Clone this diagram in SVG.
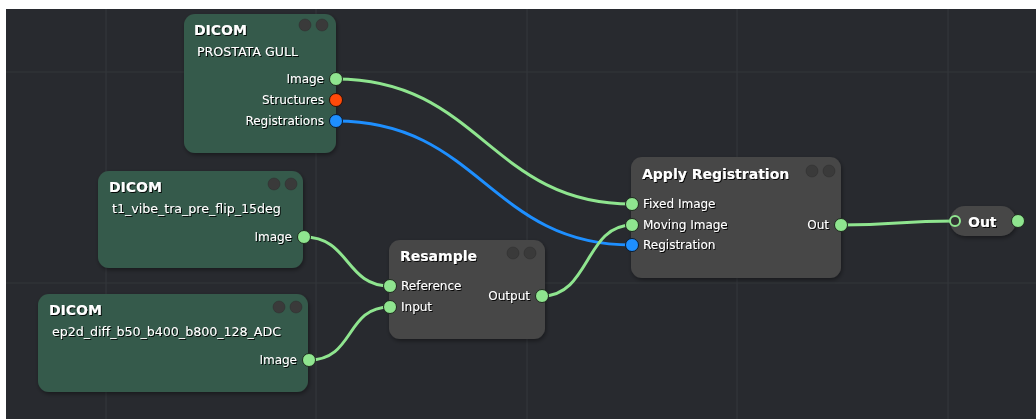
<svg xmlns="http://www.w3.org/2000/svg" width="1036" height="419" viewBox="0 0 1036 419">
<defs>
<filter id="ts" x="-10%" y="-30%" width="130%" height="160%"><feDropShadow dx="1" dy="1" stdDeviation="0.3" flood-color="#000" flood-opacity="0.9"/></filter>
<filter id="ns" x="-10%" y="-10%" width="130%" height="130%"><feDropShadow dx="1" dy="2" stdDeviation="2" flood-color="#000" flood-opacity="0.4"/></filter>
</defs>
<style>
.bg{fill:#282a2f}
.grid{stroke:#33363b;stroke-width:1.2}
.dicom{fill:#355a4b}
.proc{fill:#474747}
.t{font-family:"DejaVu Sans",Verdana,sans-serif;fill:#fff;filter:url(#ts)}
.title{font-size:14px;font-weight:bold}
.sub{font-size:12.6px}
.lbl{font-size:12px}
.dot{fill:#3a3a3a;stroke:#2e2e2e;stroke-width:0.5}
.pg{fill:#8fe58f;stroke:#1e2a1e;stroke-width:1}
.pb{fill:#1e8fff;stroke:#0b1b2e;stroke-width:1}
.po{fill:#ff4a0a;stroke:#2a1208;stroke-width:1}
.wg{fill:none;stroke:#8fe58f;stroke-width:3}
.wb{fill:none;stroke:#1e8fff;stroke-width:3}
</style>
<rect width="1036" height="419" fill="#ffffff"/>
<rect x="6" y="9" width="1030" height="410" class="bg"/>
<g id="grid">
<line x1="106" y1="9" x2="106" y2="419" class="grid"/>
<line x1="316" y1="9" x2="316" y2="419" class="grid"/>
<line x1="527" y1="9" x2="527" y2="419" class="grid"/>
<line x1="737" y1="9" x2="737" y2="419" class="grid"/>
<line x1="948" y1="9" x2="948" y2="419" class="grid"/>
<line x1="6" y1="72" x2="1036" y2="72" class="grid"/>
<line x1="6" y1="283" x2="1036" y2="283" class="grid"/>
</g>
<g id="connectors">
<path class="wg" d="M336,79 C480,79 490,204 632,204"/>
<path class="wb" d="M336,121 C480,121 490,245 632,245"/>
<path class="wg" d="M304,237 C350,237 345,286 390,286"/>
<path class="wg" d="M309,360 C355,360 345,307 390,307"/>
<path class="wg" d="M542,296 C590,296 585,225 632,225"/>
<path class="wg" d="M841,225 C900,225 895,221 955,221"/>
</g>
<g id="node-dicom-prostata">
<rect x="184" y="14" width="152" height="139" rx="11" class="dicom" filter="url(#ns)"/>
<text x="194" y="35" class="t title">DICOM</text>
<text x="197" y="56" class="t sub">PROSTATA GULL</text>
<circle cx="305" cy="25" r="6" class="dot"/>
<circle cx="322" cy="25" r="6" class="dot"/>
<text x="324" y="83" text-anchor="end" class="t lbl">Image</text>
<text x="324" y="104" text-anchor="end" class="t lbl">Structures</text>
<text x="324" y="125" text-anchor="end" class="t lbl">Registrations</text>
<circle cx="336" cy="79" r="6.5" class="pg"/>
<circle cx="336" cy="100" r="6.5" class="po"/>
<circle cx="336" cy="121" r="6.5" class="pb"/>
</g>
<g id="node-dicom-t1">
<rect x="98" y="171" width="205" height="97" rx="11" class="dicom" filter="url(#ns)"/>
<text x="109" y="192" class="t title">DICOM</text>
<text x="112" y="213" class="t sub">t1_vibe_tra_pre_flip_15deg</text>
<circle cx="274" cy="184" r="6" class="dot"/>
<circle cx="291" cy="184" r="6" class="dot"/>
<text x="292" y="241" text-anchor="end" class="t lbl">Image</text>
<circle cx="304" cy="237" r="6.5" class="pg"/>
</g>
<g id="node-dicom-ep2d">
<rect x="38" y="294" width="270" height="98" rx="11" class="dicom" filter="url(#ns)"/>
<text x="49" y="315" class="t title">DICOM</text>
<text x="52" y="336" class="t sub">ep2d_diff_b50_b400_b800_128_ADC</text>
<circle cx="279" cy="307" r="6" class="dot"/>
<circle cx="296" cy="307" r="6" class="dot"/>
<text x="297" y="364" text-anchor="end" class="t lbl">Image</text>
<circle cx="309" cy="360" r="6.5" class="pg"/>
</g>
<g id="node-resample">
<rect x="389" y="240" width="156" height="99" rx="11" class="proc" filter="url(#ns)"/>
<text x="400" y="261" class="t title">Resample</text>
<circle cx="513" cy="253" r="6" class="dot"/>
<circle cx="530" cy="253" r="6" class="dot"/>
<circle cx="390" cy="286" r="6.5" class="pg"/>
<circle cx="390" cy="307" r="6.5" class="pg"/>
<text x="401" y="290" class="t lbl">Reference</text>
<text x="401" y="311" class="t lbl">Input</text>
<text x="530" y="300" text-anchor="end" class="t lbl">Output</text>
<circle cx="542" cy="296" r="6.5" class="pg"/>
</g>
<g id="node-apply-registration">
<rect x="631" y="157" width="210" height="121" rx="11" class="proc" filter="url(#ns)"/>
<text x="642" y="179" class="t title">Apply Registration</text>
<circle cx="812" cy="171" r="6" class="dot"/>
<circle cx="829" cy="171" r="6" class="dot"/>
<circle cx="632" cy="204" r="6.5" class="pg"/>
<circle cx="632" cy="225" r="6.5" class="pg"/>
<circle cx="632" cy="245" r="6.5" class="pb"/>
<text x="643" y="208" class="t lbl">Fixed Image</text>
<text x="643" y="229" class="t lbl">Moving Image</text>
<text x="643" y="249" class="t lbl">Registration</text>
<text x="829" y="229" text-anchor="end" class="t lbl">Out</text>
<circle cx="841" cy="225" r="6.5" class="pg"/>
</g>
<g id="node-out">
<rect x="950" y="206" width="66" height="30" rx="15" class="proc" filter="url(#ns)"/>
<circle cx="955" cy="221" r="5" fill="#333" stroke="#8fe58f" stroke-width="2"/>
<text x="968" y="227" class="t title">Out</text>
<circle cx="1018" cy="221" r="6.5" class="pg"/>
</g>
</svg>
